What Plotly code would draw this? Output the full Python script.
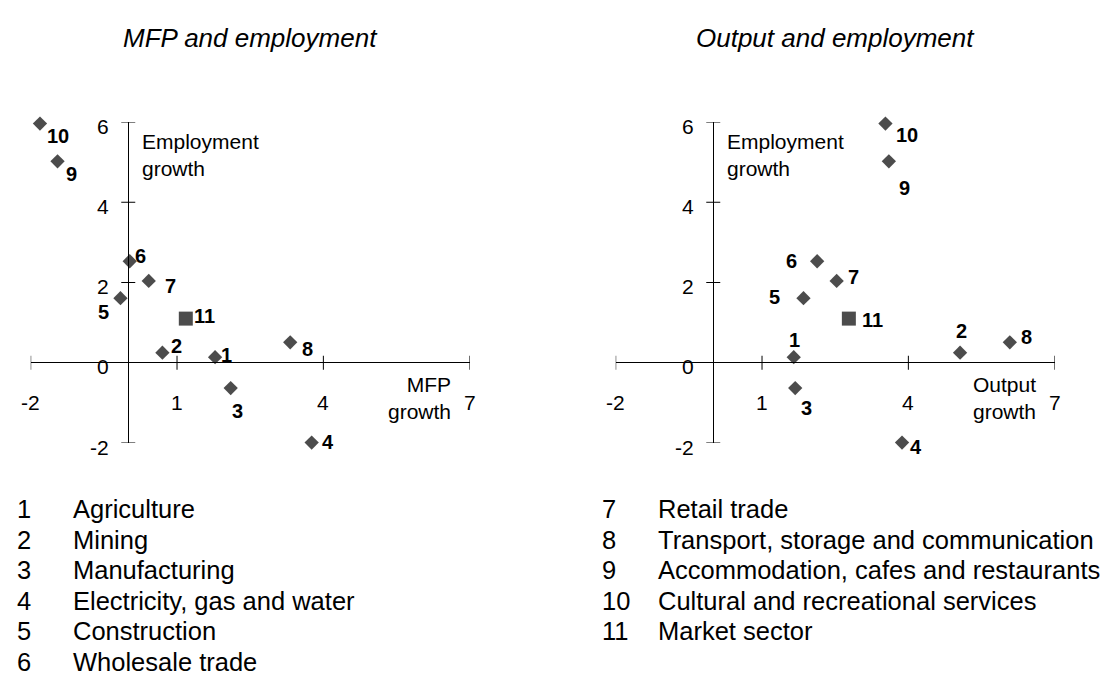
import plotly.graph_objects as go

# ---------------- data ----------------
sector_ids = ["1", "2", "3", "4", "5", "6", "7", "8", "9", "10", "11"]
sector_names = ["Agriculture", "Mining", "Manufacturing", "Electricity, gas and water",
                "Construction", "Wholesale trade", "Retail trade",
                "Transport, storage and communication",
                "Accommodation, cafes and restaurants",
                "Cultural and recreational services", "Market sector"]
mfp_growth = [1.78, 0.70, 2.10, 3.76, -0.16, 0.03, 0.42, 3.32, -1.45, -1.81, 1.18]
output_growth = [1.65, 5.06, 1.68, 3.87, 1.85, 2.13, 2.53, 6.08, 3.60, 3.53, 2.78]
employment_growth = [0.14, 0.25, -0.63, -1.99, 1.61, 2.53, 2.04, 0.51, 5.02, 5.96, 1.10]

x_ticks = [-2, 1, 4, 7]
y_ticks = [-2, 0, 2, 4, 6]

# ---------------- styling / layout helpers ----------------
W, H = 1113, 677
FONT = "Liberation Sans, Arial, sans-serif"
symbols = ["diamond"] * 10 + ["square"]
sizes = [11] * 10 + [14]

# label offsets in pixels (dx right, dy down)
left_offsets = [(11.7, -2), (14, -6.7), (7.3, 22.7), (16, -1), (-16.7, 14.3), (11, -5),
                (22, 5), (17, 6.7), (14, 12.7), (18, 12.6), (19, -2.7)]
right_offsets = [(1, -17.3), (1, -21.7), (11, 20), (14.3, 4.3), (-29, -0.7), (-26, -0.7),
                 (17.3, -3.7), (16.7, -5), (15.7, 26.3), (22, 11.7), (23.3, 1)]

fig = go.Figure()

panels = [
    dict(xs=mfp_growth, xa="x", ya="y", xname="xaxis", yname="yaxis",
         dom=[22.7 / W, 461.7 / W], offs=left_offsets,
         title="MFP and employment", xlab="MFP<br>growth", xlab_px=445),
    dict(xs=output_growth, xa="x2", ya="y2", xname="xaxis2", yname="yaxis2",
         dom=[607.7 / W, 1046.7 / W], offs=right_offsets,
         title="Output and employment", xlab="Output<br>growth", xlab_px=1030),
]

ydom = [1 - 435 / H, 1 - 114 / H]
annotations = []
shapes = []

for p in panels:
    fig.add_trace(go.Scatter(
        x=p["xs"], y=employment_growth, xaxis=p["xa"], yaxis=p["ya"],
        mode="markers", cliponaxis=False, hoverinfo="skip",
        marker=dict(symbol=symbols, size=sizes, color="black", line=dict(width=0)),
        showlegend=False))

    axis_common = dict(showgrid=False, showline=False, ticks="", showticklabels=False,
                       zeroline=True, zerolinecolor="black", zerolinewidth=1, fixedrange=True)
    fig.update_layout(**{
        p["xname"]: dict(domain=p["dom"], range=[-2, 7], anchor=p["ya"], **axis_common),
        p["yname"]: dict(domain=ydom, range=[-2, 6], anchor=p["xa"], **axis_common),
    })

    # tick marks
    for t in x_ticks:
        shapes.append(dict(type="line", xref=p["xa"], yref=p["ya"], x0=t, x1=t,
                           ysizemode="pixel", yanchor=0, y0=-7, y1=7,
                           line=dict(color="black", width=1)))
        annotations.append(dict(text=str(t), x=t, y=0, xref=p["xa"], yref=p["ya"],
                                showarrow=False, xanchor="center", yanchor="middle",
                                yshift=-40, font=dict(family=FONT, size=21, color="black")))
    for t in y_ticks:
        if t != 0:
            shapes.append(dict(type="line", xref=p["xa"], yref=p["ya"], y0=t, y1=t,
                               xsizemode="pixel", xanchor=0, x0=-7, x1=7,
                               line=dict(color="black", width=1)))
        annotations.append(dict(text=str(t), x=0, y=t, xref=p["xa"], yref=p["ya"],
                                showarrow=False, xanchor="right", yanchor="middle",
                                xshift=-17, yshift=-4,
                                font=dict(family=FONT, size=21, color="black")))

    # point labels
    for sid, xv, yv, (dx, dy) in zip(sector_ids, p["xs"], employment_growth, p["offs"]):
        annotations.append(dict(text="<b>%s</b>" % sid, x=xv, y=yv, xref=p["xa"], yref=p["ya"],
                                showarrow=False, xanchor="center", yanchor="middle",
                                xshift=dx, yshift=-dy,
                                font=dict(family=FONT, size=20, color="black")))

    # axis titles
    annotations.append(dict(text="Employment<br>growth", x=0, y=6, xref=p["xa"], yref=p["ya"],
                            showarrow=False, xanchor="left", yanchor="middle", align="left",
                            xshift=12, yshift=-33,
                            font=dict(family=FONT, size=21, color="black")))
    annotations.append(dict(text=p["xlab"], x=p["xlab_px"] / W, y=1 - 390 / H,
                            xref="paper", yref="paper",
                            showarrow=False, xanchor="right", yanchor="middle", align="right",
                            font=dict(family=FONT, size=21, color="black")))
    # panel title
    annotations.append(dict(text="<i>%s</i>" % p["title"], x=sum(p["dom"]) / 2, y=1 - 30 / H,
                            xref="paper", yref="paper", showarrow=False,
                            xanchor="center", yanchor="middle",
                            font=dict(family=FONT, size=26, color="black")))

# legend list (key)
for i, (sid, name) in enumerate(zip(sector_ids, sector_names)):
    col = 0 if i < 6 else 1
    row = i if i < 6 else i - 6
    xnum = (7 if col == 0 else 592) / W
    xtxt = (63 if col == 0 else 648) / W
    yy = 1 - (501 + 30.6 * row) / H
    for xv, txt in ((xnum, sid), (xtxt, name)):
        annotations.append(dict(text=txt, x=xv, y=yy, xref="paper", yref="paper",
                                showarrow=False, xanchor="left", yanchor="middle",
                                font=dict(family=FONT, size=25.5, color="black")))

fig.update_layout(width=W, height=H, margin=dict(l=0, r=0, t=0, b=0),
                  paper_bgcolor="white", plot_bgcolor="white",
                  annotations=annotations, shapes=shapes, showlegend=False)

fig.write_html("out.html", config={"displayModeBar": False})
